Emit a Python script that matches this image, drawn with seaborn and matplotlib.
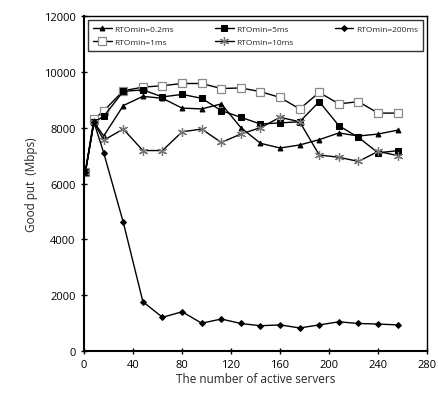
import numpy as np
import pandas as pd
import matplotlib
matplotlib.use("Agg")
import matplotlib.pyplot as plt
import seaborn as sns

servers = [1, 8, 16, 32, 48, 64, 80, 96, 112, 128, 144, 160, 176, 192, 208, 224, 240, 256]
rto_02ms = [6400, 8200, 7700, 8790, 9120, 9050, 8700, 8670, 8850, 8000, 7440, 7270, 7380, 7570, 7810, 7700, 7770, 7910]
rto_1ms = [6400, 8300, 8600, 9320, 9450, 9500, 9580, 9580, 9400, 9420, 9290, 9080, 8670, 9260, 8850, 8930, 8520, 8520]
rto_5ms = [6400, 8200, 8400, 9300, 9350, 9100, 9190, 9050, 8610, 8370, 8130, 8170, 8210, 8930, 8070, 7650, 7100, 7175]
rto_10ms = [6400, 8200, 7550, 7950, 7180, 7180, 7850, 7950, 7470, 7770, 8000, 8370, 8210, 7020, 6940, 6790, 7150, 7000]
rto_200ms = [6400, 8200, 7100, 4610, 1770, 1210, 1410, 1000, 1150, 990, 910, 940, 830, 940, 1050, 990, 970, 940]

labels = ["RTOmin=0.2ms", "RTOmin=1ms", "RTOmin=5ms", "RTOmin=10ms", "RTOmin=200ms"]
series = [rto_02ms, rto_1ms, rto_5ms, rto_10ms, rto_200ms]

frames = []
for lab, vals in zip(labels, series):
    frames.append(pd.DataFrame({"servers": servers, "goodput": vals, "series": lab}))
df = pd.concat(frames, ignore_index=True)

sns.set_style("ticks")
plt.rcParams['font.family'] = ['Open Sans', 'DejaVu Sans']

fig = plt.figure(figsize=(4.38, 4.02), dpi=100)
ax = fig.add_axes([0.192, 0.124, 0.783, 0.834])

styles = {
    "RTOmin=0.2ms": dict(marker="^", markersize=3.5, markerfacecolor="black", markeredgecolor="black"),
    "RTOmin=1ms": dict(marker="s", markersize=6, markerfacecolor="white", markeredgecolor="#8a8a8a", markeredgewidth=0.9),
    "RTOmin=5ms": dict(marker="s", markersize=3.8, markerfacecolor="black", markeredgecolor="black"),
    "RTOmin=10ms": dict(marker=(6, 2, 0), markersize=6.5, markerfacecolor="#777777", markeredgecolor="#777777", markeredgewidth=0.9),
    "RTOmin=200ms": dict(marker="D", markersize=3, markerfacecolor="black", markeredgecolor="black"),
}

for lab in labels:
    sub = df[df["series"] == lab]
    sns.lineplot(data=sub, x="servers", y="goodput", ax=ax, color="black",
                 linewidth=1.0, label=lab, **styles[lab])

ax.set_xlim(0, 280)
ax.set_ylim(0, 12000)
ax.set_xticks(range(0, 281, 40))
ax.set_yticks(range(0, 12001, 2000))
ax.tick_params(direction="inout", length=5, width=1, labelsize=8, colors="black")
for sp in ax.spines.values():
    sp.set_color("black")
    sp.set_linewidth(1.0)
ax.spines["left"].set_linewidth(1.5)
ax.spines["bottom"].set_linewidth(1.5)

ax.set_xlabel("The number of active servers", fontsize=8.5, labelpad=1)
ax.set_ylabel("Good put  (Mbps)", fontsize=8.5, labelpad=4)

leg = ax.legend(loc="upper left", ncol=3, fontsize=6, frameon=True, fancybox=False,
                edgecolor="black", handlelength=2.2, handletextpad=0.3, columnspacing=1.0,
                borderpad=0.6, labelspacing=0.6, mode="expand",
                bbox_to_anchor=(0.0, 0.0, 1.0, 1.0))
leg.get_frame().set_linewidth(1.0)

fig.savefig("out.png", dpi=100)
